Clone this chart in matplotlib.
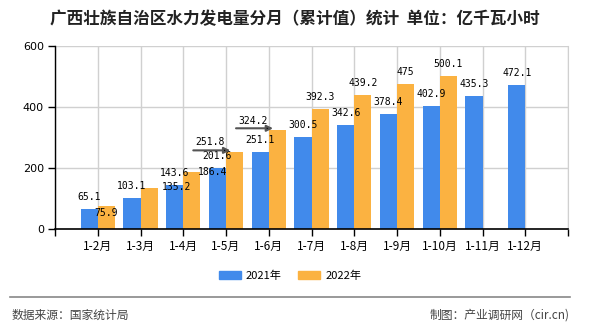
import matplotlib
matplotlib.use("Agg")
import matplotlib.pyplot as plt
from matplotlib.patches import Patch
from matplotlib.lines import Line2D
import numpy as np

plt.rcParams['font.family'] = ['Noto Sans CJK SC', 'DejaVu Sans']

categories = ["1-2月", "1-3月", "1-4月", "1-5月", "1-6月", "1-7月", "1-8月",
              "1-9月", "1-10月", "1-11月", "1-12月"]
values_2021 = [65.1, 103.1, 143.6, 201.6, 251.1, 300.5, 342.6, 378.4, 402.9, 435.3, 472.1]
values_2022 = [75.9, 135.2, 186.4, 251.8, 324.2, 392.3, 439.2, 475, 500.1]
series_names = ["2021年", "2022年"]
y_ticks = [0, 200, 400, 600]

title = "广西壮族自治区水力发电量分月（累计值）统计  单位：亿千瓦小时"
source_left = "数据来源：国家统计局"
source_right = "制图：产业调研网（cir.cn)"

c_blue = "#418aeb"
c_orange = "#fbb241"

fig = plt.figure(figsize=(5.9, 3.3), dpi=100)
ax = fig.add_axes([55 / 590, 1 - 229 / 330, 513 / 590, 183 / 330])

x = np.arange(len(categories))
w = 0.4
ax.bar(x[:len(values_2021)] - w / 2, values_2021, width=w, color=c_blue, zorder=2)
ax.bar(x[:len(values_2022)] + w / 2, values_2022, width=w, color=c_orange, zorder=2)

ax.set_xlim(-1, len(categories))
ax.set_ylim(0, 600)
ax.set_yticks(y_ticks)
ax.set_yticklabels([str(v) for v in y_ticks], fontsize=8, family='DejaVu Sans')
xt = list(range(-1, len(categories) + 1))
ax.set_xticks(xt)
ax.set_xticklabels([""] + categories + [""], fontsize=8.5)
ax.tick_params(axis='both', length=5, width=1, color='black', pad=3)
ax.tick_params(axis='x', pad=3)

ax.grid(True, color='#d0d0d0', linewidth=1, zorder=0)
ax.set_axisbelow(True)
ax.spines['top'].set_visible(False)
ax.spines['right'].set_color('#d0d0d0')
ax.spines['left'].set_color('black')
ax.spines['bottom'].set_color('black')
ax.spines['left'].set_linewidth(1)
ax.spines['bottom'].set_linewidth(1.2)

lab_font = dict(fontsize=7, family='DejaVu Sans Mono', ha='center', va='center', zorder=5)

for i, v in enumerate(values_2021):
    ax.annotate(f"{v:g}", xy=(x[i] - w / 2, v), xytext=(0, 12),
                textcoords='offset pixels', **lab_font)

special = {0: (0, -7), 1: (27, 1), 2: (21, 0)}
arrowed = {3: (-25, 10), 4: (-24, 9)}
for i, v in enumerate(values_2022):
    xc = x[i] + w / 2
    if i in special:
        ax.annotate(f"{v:g}", xy=(xc, v), xytext=special[i],
                    textcoords='offset pixels', **lab_font)
    elif i in arrowed:
        dx, dy = arrowed[i]
        ax.annotate(f"{v:g}", xy=(xc, v), xytext=(dx, dy),
                    textcoords='offset pixels', **lab_font)
        ax.annotate("", xy=(xc - 0.1, v + 6), xytext=(-37, 0),
                    textcoords='offset pixels',
                    arrowprops=dict(arrowstyle='-|>', color='#555555', lw=1.5,
                                    mutation_scale=9, shrinkA=0, shrinkB=0,
                                    fc='black', ec='#555555'), zorder=5)
    else:
        ax.annotate(f"{v:g}", xy=(xc, v), xytext=(0, 12),
                    textcoords='offset pixels', **lab_font)

fig.text(295 / 590, 1 - 19 / 330, title, ha='center', va='center',
         fontsize=12, fontweight='bold', color='#222222')

handles = [Patch(color=c_blue, label=series_names[0]),
           Patch(color=c_orange, label=series_names[1])]
fig.legend(handles=handles, loc='center', bbox_to_anchor=(290 / 590, 1 - 276 / 330),
           ncol=2, frameon=False, fontsize=8, handlelength=2.0, handleheight=0.7,
           handletextpad=0.45, columnspacing=1.5)

fig.add_artist(Line2D([10 / 590, 570 / 590], [1 - 297 / 330, 1 - 297 / 330],
                      color='#888888', lw=1.2, transform=fig.transFigure))
fig.text(12 / 590, 1 - 315 / 330, source_left, ha='left', va='center',
         fontsize=8.5, color='#444444')
fig.text(570 / 590, 1 - 315 / 330, source_right, ha='right', va='center',
         fontsize=8.5, color='#444444')

fig.savefig("out.png", dpi=100)
